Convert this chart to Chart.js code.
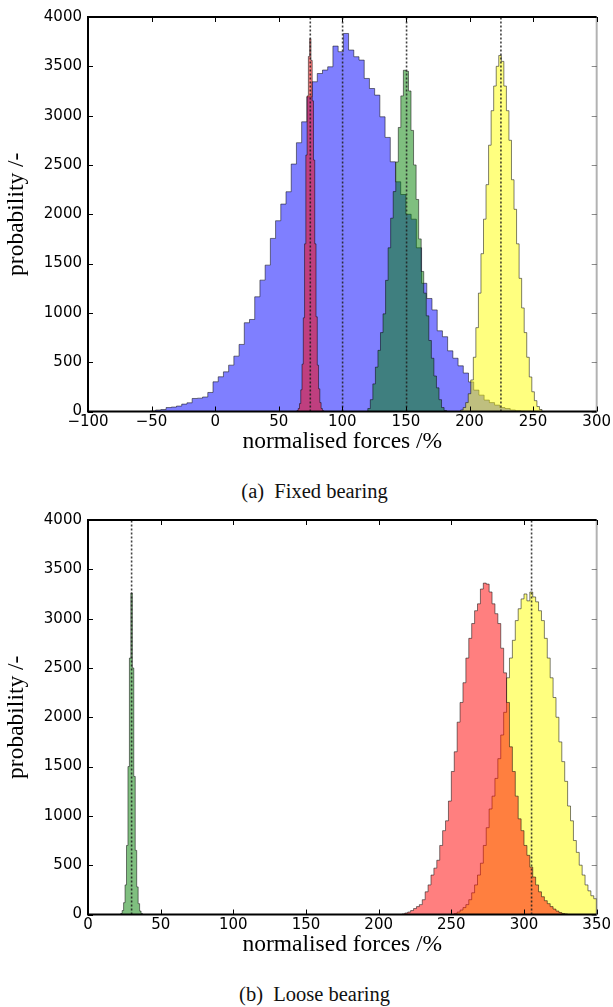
<!DOCTYPE html>
<html>
<head>
<meta charset="utf-8">
<script src="https://cdn.jsdelivr.net/npm/chart.js@4.4.1/dist/chart.umd.min.js"></script>
<style>
  html, body { margin: 0; padding: 0; background: #fff; }
  body { width: 613px; height: 1007px; position: relative; overflow: hidden; }
  .panel { position: absolute; left: 0; width: 613px; height: 470px; }
  .caption { position: absolute; left: 8px; width: 613px; text-align: center;
             font-family: "Liberation Serif", serif; font-size: 20.5px; color: #111; line-height: 23px; }
</style>
</head>
<body>
<div class="panel" style="top:0px"><canvas id="fixedChart" width="613" height="470"></canvas></div>
<div class="caption" style="top:480px">(a)&nbsp; Fixed bearing</div>
<div class="panel" style="top:503px"><canvas id="looseChart" width="613" height="470"></canvas></div>
<div class="caption" style="top:983px">(b)&nbsp; Loose bearing</div>

<script>
// (a) fixed bearing - histogram counts, bins start + width
const fixedBlueStart = -50.9, fixedBlueWidth = 4.1;
const fixedBlue = [5, 15, 20, 40, 45, 55, 75, 88, 132, 135, 147, 193, 301, 352, 402, 470,
  561, 680, 900, 933, 1163, 1332, 1484, 1755, 1934, 2103, 2228, 2509, 2725, 2937, 3191,
  3343, 3427, 3462, 3495, 3705, 3648, 3833, 3665, 3597, 3563, 3377, 3275, 3208, 2988,
  2779, 2532, 2329, 2200, 2000, 1950, 1660, 1300, 1146, 1030, 818, 758, 615, 540, 463,
  390, 300, 217, 166, 116, 90, 65, 40, 30, 15, 8, 3, 2, 1];

const fixedRedStart = 64.3, fixedRedWidth = 1;
const fixedRed = [10, 30, 80, 220, 480, 950, 1700, 2600, 3200, 3600, 3780, 3560, 3150,
  2550, 1700, 960, 470, 230, 90, 30, 10];

const fixedGreenStart = 120, fixedGreenWidth = 2;
const fixedGreen = [30, 120, 280, 450, 620, 800, 990, 1330, 1660, 1960, 2230, 2530, 2880,
  3200, 3460, 3450, 3250, 2850, 2500, 2150, 1750, 1420, 1200, 970, 720, 540, 360, 240,
  120, 40, 10];

const fixedYellowStart = 193, fixedYellowWidth = 2;
const fixedYellow = [15, 40, 90, 180, 320, 550, 850, 1200, 1600, 1950, 2300, 2700, 3050,
  3300, 3500, 3610, 3550, 3300, 3050, 2750, 2350, 2050, 1700, 1350, 1050, 800, 550, 350,
  200, 110, 50, 20];

const fixedMarkers = [74.8, 100.2, 150.5, 224.7];

// (b) loose bearing
const looseGreenStart = 22.5, looseGreenWidth = 1;
const looseGreen = [10, 40, 120, 300, 700, 1500, 2600, 3260, 2500, 1400, 650, 280, 110, 35, 10];

const looseRedStart = 216, looseRedWidth = 2;
const looseRed = [5, 15, 25, 40, 60, 80, 100, 150, 230, 300, 400, 470, 550, 700, 850, 950,
  1150, 1450, 1650, 1950, 2150, 2350, 2600, 2800, 2950, 3080, 3150, 3300, 3360, 3350,
  3270, 3150, 3050, 2950, 2700, 2450, 2150, 1700, 1450, 1200, 970, 850, 700, 600, 480,
  380, 300, 230, 180, 140, 110, 80, 55, 35, 20, 10, 5];

const looseYellowStart = 252, looseYellowWidth = 2;
const looseYellow = [10, 25, 45, 70, 100, 150, 220, 300, 400, 520, 700, 880, 1070, 1200,
  1380, 1580, 1820, 2050, 2400, 2600, 2780, 2980, 3100, 3200, 3250, 3180, 3270, 3220,
  3170, 3080, 2980, 2800, 2600, 2400, 2200, 2000, 1750, 1550, 1350, 1100, 950, 750, 630,
  500, 400, 300, 240, 190, 160];

const looseMarkers = [30, 305.2];

const yTicks = [0, 500, 1000, 1500, 2000, 2500, 3000, 3500, 4000];

const BLUE = "rgba(0,0,255,0.5)";
const RED = "rgba(255,0,0,0.5)";
const GREEN = "rgba(0,128,0,0.5)";
const YELLOW = "rgba(255,255,0,0.5)";
const EDGE = "rgba(0,0,0,0.5)";

// step outline for one histogram
function histPoints(start, width, counts) {
  const pts = [{ x: start, y: 0 }];
  counts.forEach((c, i) => pts.push({ x: start + i * width, y: c }));
  pts.push({ x: start + counts.length * width, y: 0 });
  return pts;
}

function histSet(pts, color, order) {
  return {
    data: pts, stepped: true, fill: "origin", backgroundColor: color,
    borderColor: EDGE, borderWidth: 1, pointRadius: 0, order: order
  };
}

function markerSets(values) {
  return values.map(v => ({
    data: [{ x: v, y: 0 }, { x: v, y: 4000 }],
    borderColor: "rgba(30,30,30,0.85)", borderWidth: 1.6, borderDash: [2, 2],
    pointRadius: 0, fill: false, order: 0
  }));
}

// inward ticks + frame, like the old matplotlib style
const framePlugin = {
  id: "frame",
  afterDraw(chart) {
    const { ctx, chartArea: a, scales: { x, y } } = chart;
    ctx.save();
    ctx.lineWidth = 1;
    x.ticks.forEach(t => {
      const px = Math.round(x.getPixelForValue(t.value)) + 0.5;
      ctx.strokeStyle = "#000";
      ctx.beginPath();
      ctx.moveTo(px, a.top); ctx.lineTo(px, a.top + 5);
      ctx.moveTo(px, a.bottom); ctx.lineTo(px, a.bottom - 5);
      ctx.stroke();
    });
    y.ticks.forEach(t => {
      const py = Math.round(y.getPixelForValue(t.value)) + 0.5;
      ctx.strokeStyle = "#000";
      ctx.beginPath();
      ctx.moveTo(a.left, py); ctx.lineTo(a.left + 5, py);
      ctx.stroke();
      ctx.strokeStyle = "rgba(0,0,0,0.45)";
      ctx.beginPath();
      ctx.moveTo(a.right, py); ctx.lineTo(a.right - 5, py);
      ctx.stroke();
    });
    ctx.lineWidth = 2;
    ctx.strokeStyle = "#000";
    ctx.beginPath();
    ctx.moveTo(a.right, a.top); ctx.lineTo(a.left, a.top);
    ctx.lineTo(a.left, a.bottom); ctx.lineTo(a.right, a.bottom);
    ctx.stroke();
    ctx.strokeStyle = "rgba(0,0,0,0.3)";
    ctx.beginPath();
    ctx.moveTo(a.right, a.top); ctx.lineTo(a.right, a.bottom);
    ctx.stroke();
    ctx.restore();
  }
};

function makeChart(id, datasets, xMin, xMax) {
  return new Chart(document.getElementById(id), {
    type: "line",
    data: { datasets: datasets },
    plugins: [framePlugin],
    options: {
      responsive: false,
      animation: false,
      events: [],
      layout: { padding: { top: 17, right: 15, left: 0, bottom: 14 } },
      plugins: { legend: { display: false }, tooltip: { enabled: false } },
      scales: {
        x: {
          type: "linear", min: xMin, max: xMax,
          grid: { display: false, drawTicks: false },
          border: { display: false },
          afterFit: s => { s.height = 44.5; },
          ticks: {
            stepSize: 50, padding: 2, color: "#000", maxRotation: 0,
            font: { family: "DejaVu Sans", size: 15 },
            callback: v => String(v).replace("-", "\u2212")
          },
          title: {
            display: true, text: "normalised forces /%", color: "#000",
            font: { family: "Liberation Serif", size: 23.5 }, padding: { top: 0, bottom: 0 }
          }
        },
        y: {
          min: 0, max: 4000,
          grid: { display: false, drawTicks: false },
          border: { display: false },
          afterFit: s => { s.width = 88; },
          afterBuildTicks: s => { s.ticks = yTicks.map(v => ({ value: v })); },
          ticks: {
            padding: 6, color: "#000",
            font: { family: "DejaVu Sans", size: 15 },
            callback: v => String(v)
          },
          title: {
            display: true, text: "probability /-", color: "#000",
            font: { family: "Liberation Serif", size: 23.5 }, padding: { top: 3, bottom: 0 }
          }
        }
      }
    }
  });
}

makeChart("fixedChart", [
  ...markerSets(fixedMarkers),
  histSet(histPoints(fixedYellowStart, fixedYellowWidth, fixedYellow), YELLOW, 1),
  histSet(histPoints(fixedGreenStart, fixedGreenWidth, fixedGreen), GREEN, 2),
  histSet(histPoints(fixedRedStart, fixedRedWidth, fixedRed), RED, 3),
  histSet(histPoints(fixedBlueStart, fixedBlueWidth, fixedBlue), BLUE, 4)
], -100, 300);

makeChart("looseChart", [
  ...markerSets(looseMarkers),
  histSet(histPoints(looseRedStart, looseRedWidth, looseRed), RED, 1),
  histSet(histPoints(looseYellowStart, looseYellowWidth, looseYellow), YELLOW, 2),
  histSet(histPoints(looseGreenStart, looseGreenWidth, looseGreen), GREEN, 3)
], 0, 350);
</script>
</body>
</html>
